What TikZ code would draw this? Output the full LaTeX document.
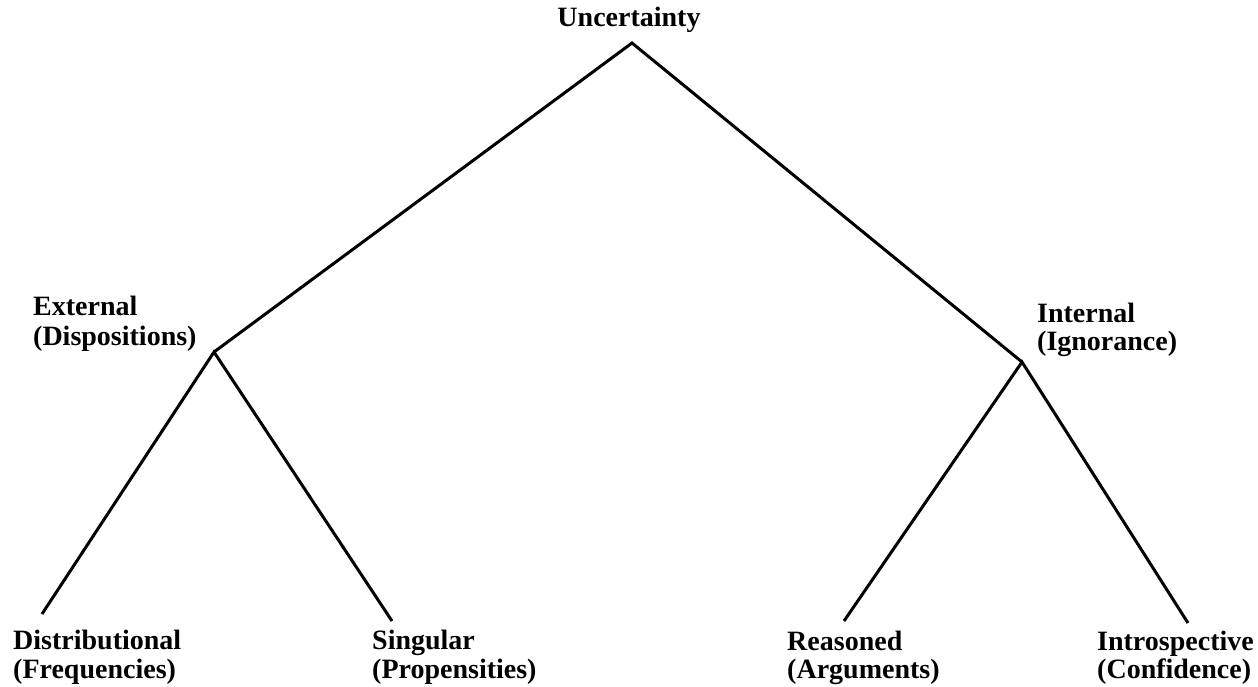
\documentclass[tikz,border=0pt]{standalone}
\usepackage{fontspec}
\setmainfont{Liberation Serif}
\begin{document}
\begin{tikzpicture}[x=1pt,y=-1pt,
  lbl/.style={inner sep=0pt,anchor=base west,font=\fontsize{28}{30}\bfseries\selectfont},
  edge/.style={line width=3pt,line join=miter,line cap=butt}]
\useasboundingbox (0,0) rectangle (1258,687);
\fill[white] (0,0) rectangle (1258,687);
% labels
\node[lbl,anchor=base] (unc) at (629,27) {Uncertainty};
\node[lbl] (ext) at (33,315) {External};
\node[lbl] (extb) at (33,345) {(Dispositions)};
\node[lbl] (int) at (1037,322) {Internal};
\node[lbl] (intb) at (1037,350) {(Ignorance)};
\node[lbl] (dis) at (13,649) {Distributional};
\node[lbl] (disb) at (13,678) {(Frequencies)};
\node[lbl] (sin) at (372,649) {Singular};
\node[lbl] (sinb) at (372,678) {(Propensities)};
\node[lbl] (rea) at (787,650) {Reasoned};
\node[lbl] (reab) at (787,678) {(Arguments)};
\node[lbl] (intr) at (1097,650) {Introspective};
\node[lbl] (intrb) at (1097,678) {(Confidence)};
% junction points
\coordinate (apex) at (632,43);
\coordinate (jL) at (214,352);
\coordinate (jR) at (1022,362);
\coordinate (eD) at (42,614);
\coordinate (eS) at (392,621);
\coordinate (eR) at (844,621);
\coordinate (eI) at (1188,623);
% connectors
\draw[edge] (jL) -- (apex) -- (jR);
\draw[edge] (eD) -- (jL) -- (eS);
\draw[edge] (eR) -- (jR) -- (eI);
\end{tikzpicture}
\end{document}
